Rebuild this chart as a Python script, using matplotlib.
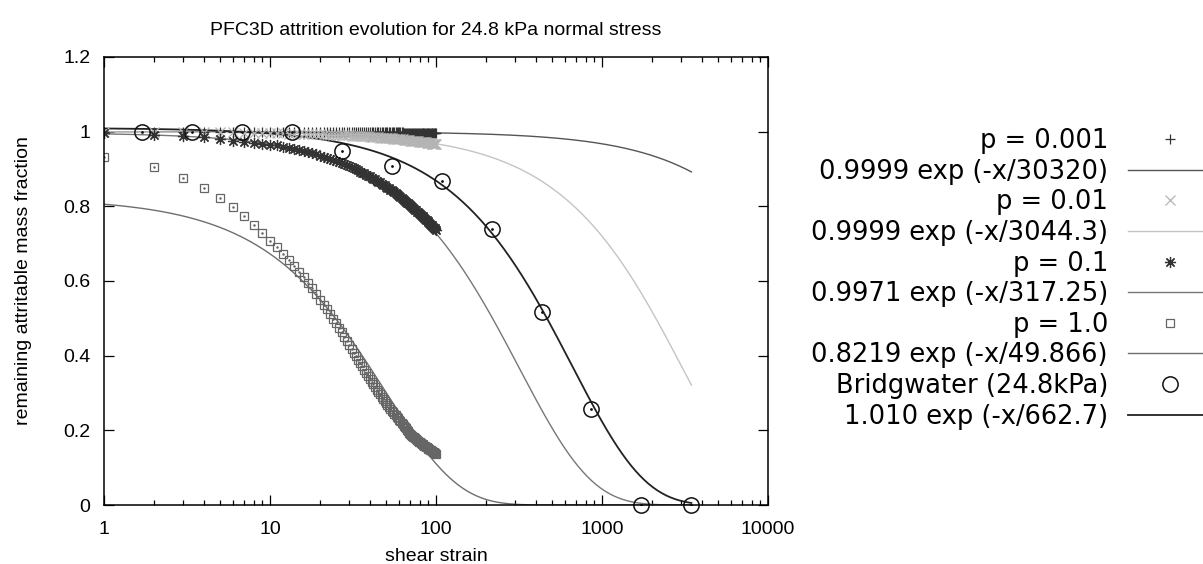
import numpy as np
import matplotlib.pyplot as plt
from matplotlib.ticker import FixedLocator, LogLocator, NullFormatter

plt.rcParams['font.family'] = ['Liberation Sans', 'DejaVu Sans']

# PFC3D simulation results, one value per unit of shear strain (1..100)
strain = list(range(1, 101))

p0001 = [1.000, 1.000, 1.000] + [0.999] * 30 + [0.998] * 30 + [0.997] * 30 + [0.996] * 7

p001 = [0.999, 0.999, 0.999, 0.998, 0.998, 0.998, 0.997, 0.997, 0.997, 0.996,
        0.996, 0.996, 0.995, 0.995, 0.995, 0.994, 0.994, 0.994, 0.993, 0.993,
        0.993, 0.992, 0.992, 0.992, 0.991, 0.991, 0.991, 0.990, 0.990, 0.990,
        0.989, 0.989, 0.989, 0.988, 0.988, 0.988, 0.987, 0.987, 0.987, 0.986,
        0.986, 0.986, 0.985, 0.985, 0.985, 0.984, 0.984, 0.984, 0.983, 0.983,
        0.983, 0.982, 0.982, 0.982, 0.981, 0.981, 0.981, 0.980, 0.980, 0.980,
        0.979, 0.979, 0.979, 0.978, 0.978, 0.978, 0.977, 0.977, 0.977, 0.976,
        0.976, 0.976, 0.975, 0.975, 0.975, 0.974, 0.974, 0.974, 0.973, 0.973,
        0.973, 0.972, 0.972, 0.972, 0.971, 0.971, 0.971, 0.970, 0.970, 0.970,
        0.969, 0.969, 0.969, 0.968, 0.968, 0.968, 0.967, 0.967, 0.967, 0.966]

p01 = [0.996, 0.991, 0.989, 0.985, 0.980, 0.976, 0.972, 0.969, 0.966, 0.963,
       0.963, 0.960, 0.957, 0.954, 0.951, 0.948, 0.945, 0.942, 0.939, 0.936,
       0.933, 0.930, 0.927, 0.924, 0.922, 0.919, 0.916, 0.913, 0.910, 0.907,
       0.904, 0.902, 0.899, 0.896, 0.893, 0.890, 0.888, 0.885, 0.882, 0.880,
       0.877, 0.874, 0.872, 0.869, 0.866, 0.864, 0.861, 0.858, 0.856, 0.853,
       0.850, 0.848, 0.845, 0.843, 0.840, 0.837, 0.835, 0.832, 0.830, 0.827,
       0.825, 0.822, 0.820, 0.817, 0.815, 0.812, 0.810, 0.808, 0.805, 0.803,
       0.800, 0.798, 0.796, 0.793, 0.791, 0.789, 0.786, 0.784, 0.782, 0.780,
       0.777, 0.775, 0.773, 0.771, 0.768, 0.766, 0.764, 0.762, 0.760, 0.758,
       0.755, 0.753, 0.751, 0.749, 0.747, 0.745, 0.743, 0.741, 0.739, 0.737]

p1 = [0.932, 0.904, 0.876, 0.849, 0.821, 0.797, 0.774, 0.750, 0.728, 0.708,
      0.690, 0.672, 0.655, 0.640, 0.625, 0.610, 0.595, 0.580, 0.565, 0.550,
      0.537, 0.524, 0.511, 0.499, 0.487, 0.475, 0.463, 0.451, 0.439, 0.428,
      0.418, 0.408, 0.398, 0.389, 0.380, 0.371, 0.362, 0.353, 0.345, 0.337,
      0.330, 0.323, 0.316, 0.309, 0.302, 0.296, 0.290, 0.284, 0.278, 0.272,
      0.267, 0.262, 0.257, 0.252, 0.248, 0.244, 0.240, 0.236, 0.232, 0.228,
      0.224, 0.220, 0.216, 0.212, 0.208, 0.205, 0.201, 0.198, 0.194, 0.191,
      0.188, 0.186, 0.183, 0.181, 0.179, 0.177, 0.175, 0.172, 0.170, 0.168,
      0.166, 0.164, 0.163, 0.161, 0.159, 0.158, 0.156, 0.155, 0.153, 0.151,
      0.150, 0.148, 0.147, 0.145, 0.144, 0.143, 0.141, 0.140, 0.139, 0.137]

# Bridgwater experiment (24.8 kPa)
bw_strain = [1.69, 3.38, 6.75, 13.5, 27, 54, 108, 216, 432, 864, 1728, 3456]
bw_frac = [1.0, 1.0, 1.0, 1.0, 0.948, 0.908, 0.869, 0.738, 0.517, 0.258, 0.0, 0.0]

# fits a * exp(-x / tau)
fit_a = [0.9999, 0.9999, 0.9971, 0.8219, 1.010]
fit_tau = [30320, 3044.3, 317.25, 49.866, 662.7]
fit_labels = ['0.9999 exp (-x/30320)', '0.9999 exp (-x/3044.3)', '0.9971 exp (-x/317.25)',
              '0.8219 exp (-x/49.866)', '1.010 exp (-x/662.7)']
data_labels = ['p = 0.001', 'p = 0.01', 'p = 0.1', 'p = 1.0', 'Bridgwater (24.8kPa)']

fig = plt.figure(figsize=(12.03, 5.64), dpi=100)
ax = fig.add_axes([0.0865, 0.1046, 0.5519, 0.7944])

xs = np.geomspace(1, 3456, 400)
fit_colors = ['#555555', '#c4c4c4', '#777777', '#6e6e6e', '#222222']
fit_lw = [1.0, 1.0, 1.0, 1.0, 1.3]
fit_lines = []
for a, tau, c, lw, lab in zip(fit_a, fit_tau, fit_colors, fit_lw, fit_labels):
    ln, = ax.plot(xs, a * np.exp(-xs / tau), color=c, lw=lw, label=lab)
    fit_lines.append(ln)

h1, = ax.plot(strain, p0001, ls='none', marker='+', ms=7, mew=0.9, color='#333333', label=data_labels[0])
h2, = ax.plot(strain, p001, ls='none', marker='x', ms=6.5, mew=0.9, color='#b4b4b4', label=data_labels[1])
h3, = ax.plot(strain, p01, ls='none', marker=(8, 2, 0), ms=8, mew=0.9, color='#333333', label=data_labels[2])
h4, = ax.plot(strain, p1, ls='none', marker='s', ms=5.2, mew=0.9, mfc='none', color='#666666', label=data_labels[3])
ax.plot(strain, p1, ls='none', marker='o', ms=0.8, color='#666666')
h5, = ax.plot(bw_strain, bw_frac, ls='none', marker='o', ms=11, mew=1.1, mfc='none', color='#111111',
              label=data_labels[4], clip_on=False)
ax.plot(bw_strain, bw_frac, ls='none', marker='o', ms=1, color='#111111')

ax.set_xscale('log')
ax.set_xlim(1, 10000)
ax.set_ylim(0, 1.2)
ax.xaxis.set_major_locator(FixedLocator([1, 10, 100, 1000, 10000]))
ax.set_xticklabels(['1', '10', '100', '1000', '10000'])
ax.xaxis.set_minor_locator(LogLocator(base=10, subs=np.arange(2, 10)))
ax.xaxis.set_minor_formatter(NullFormatter())
ax.set_yticks([0, 0.2, 0.4, 0.6, 0.8, 1.0, 1.2])
ax.set_yticklabels(['0', '0.2', '0.4', '0.6', '0.8', '1', '1.2'])
ax.tick_params(which='both', direction='in', top=True, right=True, labelsize=14, width=0.9)
ax.tick_params(which='major', length=7)
ax.tick_params(which='minor', length=3.5)
ax.tick_params(axis='x', which='major', pad=11.5)
ax.tick_params(axis='y', which='major', pad=10)
for s in ax.spines.values():
    s.set_linewidth(1.1)

ax.set_title('PFC3D attrition evolution for 24.8 kPa normal stress', fontsize=14, pad=16)
ax.set_xlabel('shear strain', fontsize=14, labelpad=7)
ax.set_ylabel('remaining attritable mass fraction', fontsize=14, labelpad=22)

handles = []
for d, f in zip([h1, h2, h3, h4, h5], fit_lines):
    handles += [d, f]
fig.legend(handles=handles, labels=[h.get_label() for h in handles], loc='upper right',
           bbox_to_anchor=(1.0075, 0.773), frameon=False, markerfirst=False,
           prop={'family': 'DejaVu Sans', 'size': 18.5},
           handlelength=3.27, handletextpad=0.78, labelspacing=0.18, borderpad=0, borderaxespad=0)

fig.savefig('out.png', dpi=100)
